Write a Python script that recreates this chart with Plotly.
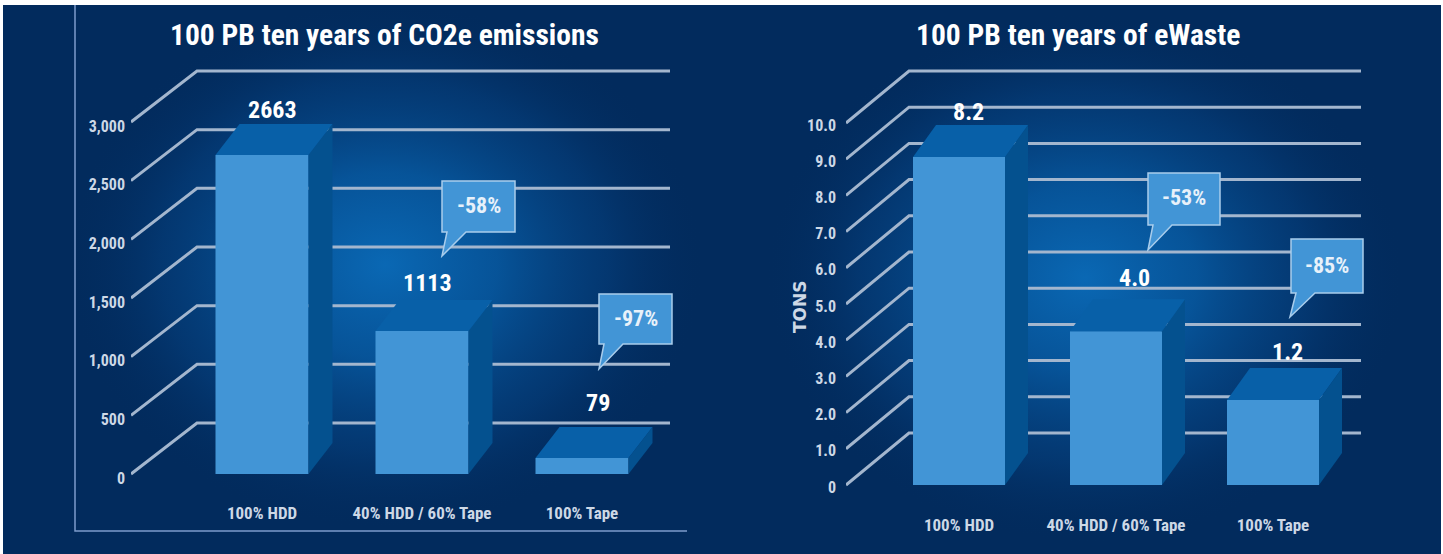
import base64
import plotly.graph_objects as go

W, H = 1443, 554

# ---- data ----
categories = ["100% HDD", "40% HDD / 60% Tape", "100% Tape"]
co2_labels = ["2663", "1113", "79"]
co2_heights = [2719, 1219, 136]
co2_ticks = [0, 500, 1000, 1500, 2000, 2500, 3000]
co2_ticktext = ["0", "500", "1,000", "1,500", "2,000", "2,500", "3,000"]
co2_callouts = ["-58%", "-97%"]

waste_labels = ["8.2", "4.0", "1.2"]
waste_heights = [9.06, 4.25, 2.35]
waste_ticks = [0, 1, 2, 3, 4, 5, 6, 7, 8, 9, 10]
waste_ticktext = ["0", "1.0", "2.0", "3.0", "4.0", "5.0", "6.0", "7.0", "8.0", "9.0", "10.0"]
waste_callouts = ["-53%", "-85%"]

# ---- style ----
BG = "#022b5d"
FRONT = "#4295d6"
TOP = "#0860a8"
SIDE = "#04518f"
GRID = "#a3b6ce"
TICK = "#cdd8e6"
FONT = "Roboto Condensed, DejaVu Sans Condensed, Roboto"


def px(x):
    return x / W


def py(y):
    return 1 - y / H


def glow(name, cx, cy, rx, ry):
    return (f'<radialGradient id="{name}" gradientUnits="userSpaceOnUse" cx="0" cy="0" r="1" '
            f'gradientTransform="translate({cx} {cy}) scale({rx} {ry})">'
            '<stop offset="0" stop-color="#0a68b4" stop-opacity="1"/>'
            '<stop offset="0.35" stop-color="#07589f" stop-opacity="0.9"/>'
            '<stop offset="0.7" stop-color="#054180" stop-opacity="0.55"/>'
            f'<stop offset="1" stop-color="{BG}" stop-opacity="0"/>'
            '</radialGradient>')


backdrop = (f'<svg xmlns="http://www.w3.org/2000/svg" width="{W}" height="{H}" viewBox="0 0 {W} {H}">'
            f'<defs>{glow("a", 385, 265, 320, 265)}{glow("b", 1085, 278, 320, 265)}</defs>'
            f'<rect x="3" y="5" width="1438" height="549" fill="{BG}"/>'
            f'<rect width="{W}" height="{H}" x="3" y="5" fill="url(#a)"/>'
            f'<rect width="{W}" height="{H}" x="3" y="5" fill="url(#b)"/>'
            '</svg>')
backdrop = backdrop.replace(f'<rect width="{W}" height="{H}" x="3" y="5"', '<rect x="3" y="5" width="1438" height="549"')
bg_source = "data:image/svg+xml;base64," + base64.b64encode(backdrop.encode()).decode()

shapes = []

# frame of left panel
shapes.append(dict(type="path", xref="paper", yref="paper",
                   path=f"M {px(75)} {py(5)} L {px(75)} {py(531)} L {px(687)} {py(531)}",
                   line=dict(color="#7d9ccb", width=1.5), layer="below"))

fig = go.Figure()
annotations = []


def panel(n, heights, labels, ticks, ticktext, title, title_x,
          x0, x1, c0, spacing, base_y, px_per_unit, grid_dx, grid_dy,
          dom_top, dom_bot, standoff, shift, bar_w, depth_x, depth_y, label_off):
    xname = f"x{n}" if n > 1 else "x"
    yname = f"y{n}" if n > 1 else "y"
    xr = [(x0 - c0) / spacing, (x1 - c0) / spacing]
    yr = [(base_y - dom_bot) / px_per_unit, (base_y - dom_top) / px_per_unit]
    fig.update_layout({
        f"xaxis{n}": dict(domain=[px(x0), px(x1)], range=xr, tickmode="array",
                          tickvals=[0, 1, 2], ticktext=categories, showgrid=False,
                          zeroline=False, showline=False, ticks="", anchor=yname,
                          tickfont=dict(family=FONT, size=17, color=TICK, weight=700)),
        f"yaxis{n}": dict(domain=[py(dom_bot), py(dom_top)], range=yr, tickmode="array",
                          tickvals=ticks, ticktext=ticktext, showgrid=False,
                          zeroline=False, showline=False, ticks="", anchor=xname,
                          ticklabelstandoff=standoff, ticklabelshift=shift,
                          tickfont=dict(family=FONT, size=16, color=TICK, weight=700)),
    })
    gx = grid_dx / spacing
    gy = grid_dy / px_per_unit
    for t in ticks:
        shapes.append(dict(type="path", xref=xname, yref=yname,
                           path=f"M {xr[0]} {t} L {xr[0] + gx} {t + gy} L {xr[1]} {t + gy}",
                           line=dict(color=GRID, width=3), layer="below"))
    dx = depth_x / spacing
    dy = depth_y / px_per_unit
    hw = bar_w / spacing / 2
    idx = [0, 1, 2]
    fig.add_trace(go.Bar(x=idx, y=heights, width=bar_w / spacing, marker=dict(color=FRONT, line_width=0),
                         xaxis=xname, yaxis=yname, showlegend=False, hoverinfo="skip"))
    for i, h in zip(idx, heights):
        fig.add_trace(go.Scatter(
            x=[i + hw, i + hw + dx, i + hw + dx, i + hw, i + hw],
            y=[0, dy, h + dy, h, 0], fill="toself", fillcolor=SIDE, mode="none",
            xaxis=xname, yaxis=yname, showlegend=False, hoverinfo="skip"))
        fig.add_trace(go.Scatter(
            x=[i - hw, i - hw + dx, i + hw + dx, i + hw, i - hw],
            y=[h, h + dy, h + dy, h, h], fill="toself", fillcolor=TOP, mode="none",
            xaxis=xname, yaxis=yname, showlegend=False, hoverinfo="skip"))
    for i, h, lab, off in zip(idx, heights, labels, label_off):
        annotations.append(dict(x=i, y=h, xref=xname, yref=yname, text=lab, showarrow=False,
                                xanchor="center", yanchor="middle",
                                xshift=off[0], yshift=off[1],
                                font=dict(family=FONT, size=24, color="white", weight=700)))
    annotations.append(dict(x=px(title_x), y=py(35), xref="paper", yref="paper", text=title,
                            xanchor="center", yanchor="middle", showarrow=False,
                            font=dict(family=FONT, size=29.5, color="white", weight=700)))


panel(1, co2_heights, co2_labels, co2_ticks, co2_ticktext,
      "100 PB ten years of CO2e emissions", 384,
      131, 670, 262, 160, 474, 352 / 3000, 66, 51, 60, 501, 5, 4, 93, 24, 31,
      [(10, 45), (5, 48), (16, 55)])
panel(2, waste_heights, waste_labels, waste_ticks, waste_ticktext,
      "100 PB ten years of eWaste", 1078,
      846, 1361, 959, 157, 485, 36.2, 63, 52, 60, 513, 9, 2, 92, 23, 32,
      [(9, 45), (18, 53), (14, 48)])

annotations.append(dict(x=px(800), y=py(306), xref="paper", yref="paper", text="TONS", textangle=-90,
                        xanchor="center", yanchor="middle", showarrow=False,
                        font=dict(family="DejaVu Sans", size=17, color=TICK, weight=700)))


def callout(text, x0, y0, x1, y1, tipx, tipy):
    p = (f"M {px(x0)} {py(y0)} L {px(x1)} {py(y0)} L {px(x1)} {py(y1)} "
         f"L {px(x0 + 24)} {py(y1)} L {px(tipx)} {py(tipy)} L {px(x0 + 5)} {py(y1)} "
         f"L {px(x0)} {py(y1)} Z")
    shapes.append(dict(type="path", xref="paper", yref="paper", path=p, fillcolor=FRONT,
                       line=dict(color="#a9cdec", width=1.5), layer="above"))
    annotations.append(dict(x=px((x0 + x1) / 2), y=py((y0 + y1) / 2 - 1), xref="paper", yref="paper",
                            xanchor="center", yanchor="middle",
                            text=text, showarrow=False,
                            font=dict(family=FONT, size=22, color="#e8f1fa", weight=700)))


callout(co2_callouts[0], 442, 181, 515, 232, 442, 256)
callout(co2_callouts[1], 599, 294, 672, 344, 599, 369)
callout(waste_callouts[0], 1148, 173, 1220, 225, 1148, 250)
callout(waste_callouts[1], 1291, 239, 1363, 293, 1290, 317)

fig.update_layout(width=W, height=H, margin=dict(l=0, r=0, t=0, b=0),
                  paper_bgcolor="white", plot_bgcolor="rgba(0,0,0,0)",
                  images=[dict(source=bg_source, xref="paper", yref="paper", x=0, y=1,
                               sizex=1, sizey=1, xanchor="left", yanchor="top",
                               sizing="stretch", layer="below")],
                  shapes=shapes, annotations=annotations, showlegend=False, barmode="overlay")
fig.write_html("out.html", config={"displayModeBar": False},
               post_script="document.body.style.margin='0';document.body.style.overflow='hidden';")
